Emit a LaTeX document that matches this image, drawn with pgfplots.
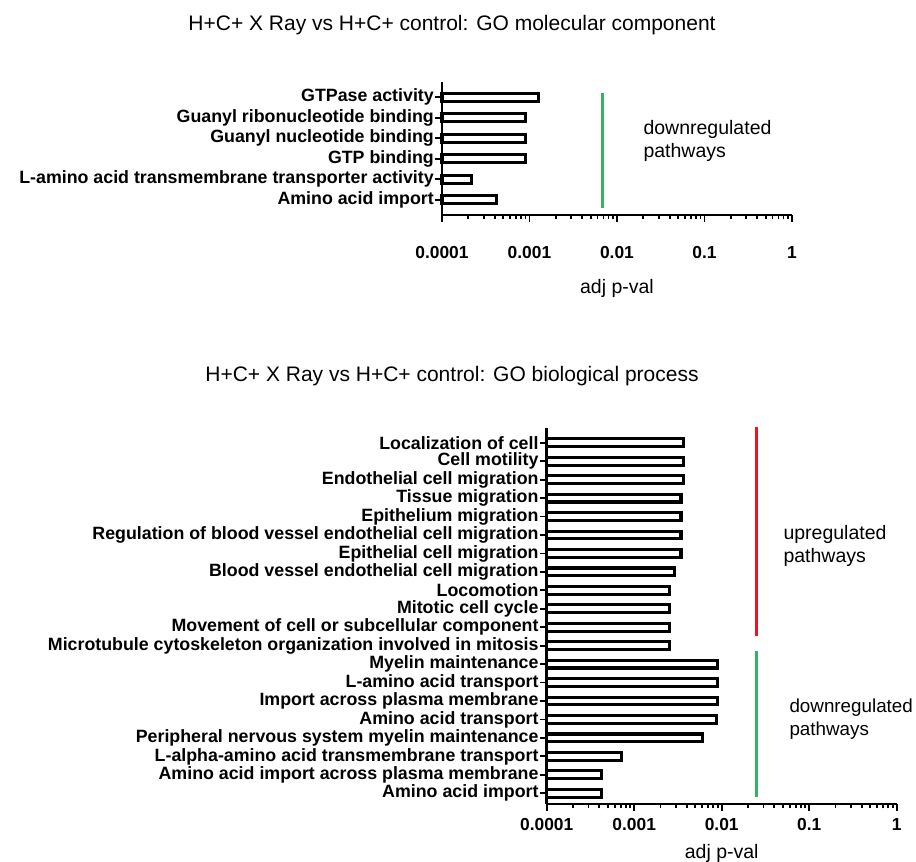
\documentclass[border=0pt]{standalone}
\usepackage{fontspec}
\setmainfont{Liberation Sans}
\usepackage{pgfplots}
\pgfplotsset{compat=1.18}
\definecolor{pgreen}{RGB}{50,180,100}
\definecolor{pred}{RGB}{236,20,36}
\pgfplotsset{
  gostyle/.style={
    scale only axis, width=350pt,
    xmin=1e-4, xmax=1,
    axis x line*=bottom, axis y line*=left,
    axis line style={line width=2.6pt, black},
    xtick={1e-4,1e-3,1e-2,1e-1,1},
    xticklabels={0.0001,0.001,0.01,0.1,1},
    xticklabel style={font=\fontsize{17.4}{20}\selectfont\bfseries},
    yticklabel style={font=\fontsize{17.8}{20}\selectfont\bfseries, inner sep=1pt},
    tick style={line width=1.8pt, black},
    major tick length=7pt, minor tick length=4.5pt,
    tick align=outside,
    bar width=7.8pt,
    clip=false,
    every axis x label/.style={at={(axis description cs:0.5,0)}, anchor=center, font=\fontsize{19.5}{22}\selectfont},
  },
}
\begin{document}
\begin{tikzpicture}
\useasboundingbox (0,0) rectangle (916pt,862pt);
\node[font=\fontsize{21}{24}\selectfont] at (452pt,837pt) {H+C+ X Ray vs H+C+ control: GO molecular component};
\node[font=\fontsize{21}{24}\selectfont] at (452pt,486pt) {H+C+ X Ray vs H+C+ control: GO biological process};

\begin{axis}[xmode=log, log origin x=infty, gostyle, at={(442pt,647pt)}, anchor=south west, height=133pt,
  ymin=0.25, ymax=6.75, ytick={1,...,6},
  yticklabels={Amino acid import, L-amino acid transmembrane transporter activity, GTP binding, Guanyl nucleotide binding, Guanyl ribonucleotide binding, GTPase activity},
  xticklabel style={yshift=-21pt},
  xlabel={adj p-val}, xlabel style={yshift=-73pt}]
\addplot[xbar, draw=black, fill=white, line width=3.1pt] coordinates {(0.000416,1) (0.000219,2) (0.00089,3) (0.00089,4) (0.00089,5) (0.00127,6)};
\addplot[sharp plot, no marks, draw=pgreen, line width=3pt] coordinates {(0.0068,0.6) (0.0068,6.2)};
\end{axis}
\node[anchor=west, align=left, font=\fontsize{19.5}{23}\selectfont] at (640pt,721pt) {downregulated\\pathways};

\begin{axis}[xmode=log, log origin x=infty, gostyle, at={(546.7pt,58pt)}, anchor=south west, height=376pt,
  ymin=0.42, ymax=20.8, ytick={1,...,20},
  yticklabels={Amino acid import, Amino acid import across plasma membrane, L-alpha-amino acid transmembrane transport, Peripheral nervous system myelin maintenance, Amino acid transport, Import across plasma membrane, L-amino acid transport, Myelin maintenance, Microtubule cytoskeleton organization involved in mitosis, Movement of cell or subcellular component, Mitotic cell cycle, Locomotion, Blood vessel endothelial cell migration, Epithelial cell migration, Regulation of blood vessel endothelial cell migration, Epithelium migration, Tissue migration, Endothelial cell migration, Cell motility, Localization of cell},
  xticklabel style={yshift=-4pt},
  xlabel={adj p-val}, xlabel style={yshift=-49pt}]
\addplot[xbar, draw=black, fill=white, line width=3.1pt] coordinates {(0.000427,1) (0.000427,2) (0.00072,3) (0.00608,4) (0.0087,5) (0.00895,6) (0.00895,7) (0.00895,8) (0.00253,9) (0.00253,10) (0.00253,11) (0.00253,12) (0.00289,13) (0.00343,14) (0.00343,15) (0.00343,16) (0.00343,17) (0.00366,18) (0.00366,19) (0.00366,20)};
\addplot[sharp plot, no marks, draw=pred, line width=3pt] coordinates {(0.0247,9.55) (0.0247,20.85)};
\addplot[sharp plot, no marks, draw=pgreen, line width=3pt] coordinates {(0.0247,0.78) (0.0247,8.7)};
\end{axis}
\node[anchor=west, align=left, font=\fontsize{19.5}{23}\selectfont] at (780pt,316pt) {upregulated\\pathways};
\node[anchor=west, align=left, font=\fontsize{18.8}{23}\selectfont] at (786pt,143pt) {downregulated\\pathways};
\end{tikzpicture}
\end{document}
